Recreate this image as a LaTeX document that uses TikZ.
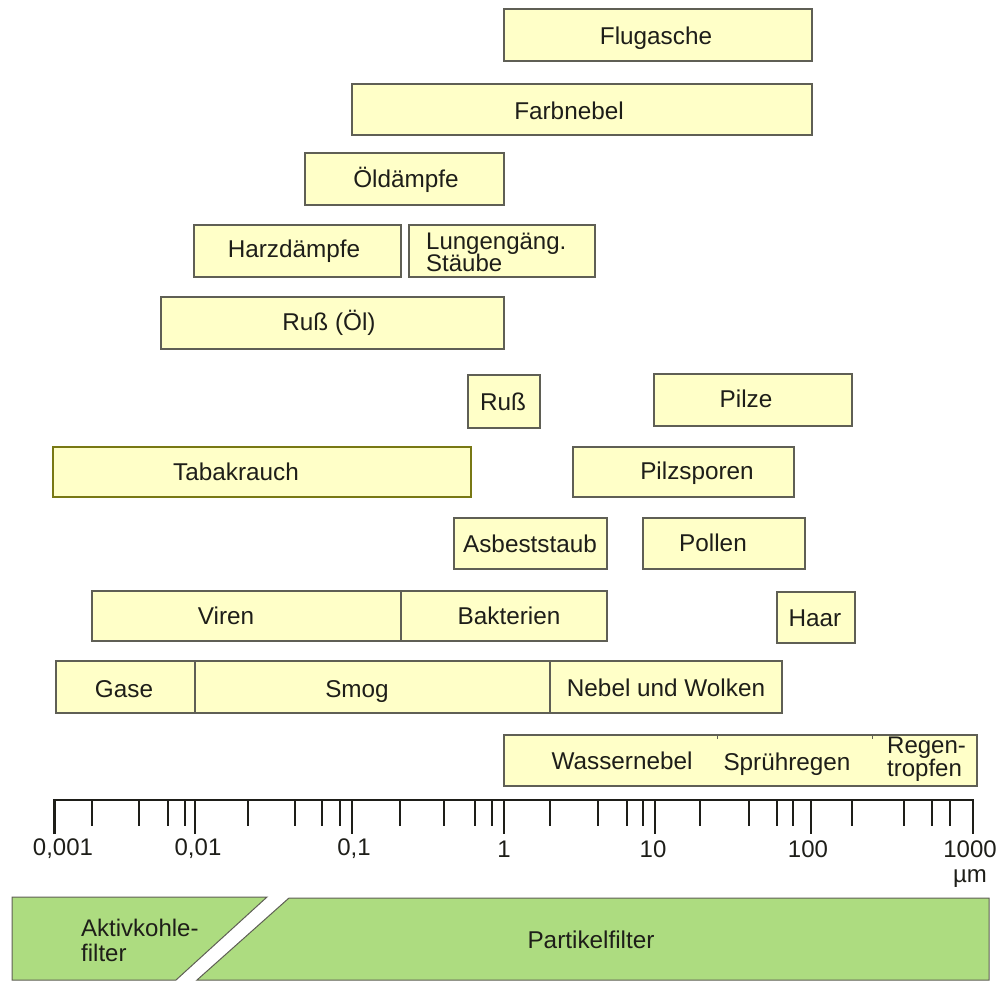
\documentclass[tikz,border=0pt]{standalone}
\usepackage{fontspec}
\setmainfont{Liberation Sans}
\definecolor{boxfill}{RGB}{255,255,200}
\definecolor{boxline}{RGB}{95,95,85}
\definecolor{oliveline}{RGB}{120,120,20}
\definecolor{filtgreen}{RGB}{173,220,128}
\definecolor{inkcol}{RGB}{30,30,25}
\begin{document}
\begin{tikzpicture}[x=1pt,y=-1pt,
  box/.style={draw=boxline, fill=boxfill, line width=1.3pt},
  divline/.style={draw=boxline, line width=1.1pt},
  lbl/.style={font=\fontsize{24.3}{24}\selectfont, inner sep=0pt, text=inkcol},
  lbltwo/.style={lbl, align=left, font=\fontsize{24}{22.5}\selectfont},
  axlbl/.style={font=\fontsize{24}{24}\selectfont, inner sep=0pt, text=inkcol},
  axisline/.style={draw=inkcol, line width=2.6pt},
  majtick/.style={draw=inkcol, line width=2.4pt},
  mintick/.style={draw=inkcol, line width=2.2pt},
  filt/.style={draw=boxline, fill=filtgreen, line width=1pt}]
\useasboundingbox (0,0) rectangle (1001,981);

% ---------- boxes ----------
\draw[box] (504,9) rectangle (812,61);
\node[lbl] (flug) at (656,38.5) {Flugasche};

\draw[box] (352,84) rectangle (812,135);
\node[lbl] (farb) at (569,111) {Farbnebel};

\draw[box] (305,153) rectangle (504,205);
\node[lbl] (oel) at (406,179.5) {Öldämpfe};

\draw[box] (194,225) rectangle (401,277);
\node[lbl] (harz) at (294,251.5) {Harzdämpfe};

\draw[box] (409,225) rectangle (595,277);
\node[lbltwo, anchor=west] (lung) at (426,252.5) {Lungengäng.\\Stäube};

\draw[box] (161,297) rectangle (504,349);
\node[lbl] (russoel) at (329,322.5) {Ruß (Öl)};

\draw[box] (468,375) rectangle (540,428);
\node[lbl] (russ) at (503,402) {Ruß};

\draw[box] (654,374) rectangle (852,426);
\node[lbl] (pilze) at (746,399) {Pilze};

\draw[box, draw=oliveline] (53,447) rectangle (471,497);
\node[lbl] (tabak) at (236,472) {Tabakrauch};

\draw[box] (573,447) rectangle (794,497);
\node[lbl] (sporen) at (697,473.5) {Pilzsporen};

\draw[box] (454,518) rectangle (607,569);
\node[lbl] (asbest) at (530,544) {Asbeststaub};

\draw[box] (643,518) rectangle (805,569);
\node[lbl] (pollen) at (713,543) {Pollen};

\draw[box] (92,591) rectangle (607,641);
\draw[divline] (401,591) -- (401,641);
\node[lbl] (viren) at (226,616) {Viren};
\node[lbl] (bakt) at (509,616) {Bakterien};

\draw[box] (777,592) rectangle (855,643);
\node[lbl] (haar) at (815,618) {Haar};

\draw[box] (56,661) rectangle (782,713);
\draw[divline] (195,661) -- (195,713);
\draw[divline] (550,661) -- (550,713);
\node[lbl] (gase) at (124,689) {Gase};
\node[lbl] (smog) at (357,691.5) {Smog};
\node[lbl] (nebel) at (666,688) {Nebel und Wolken};

\draw[box] (504,735) rectangle (977,786);
\draw[draw=boxline, line width=0.6pt] (717,735) -- (717,739);
\draw[draw=boxline, line width=0.6pt] (872,735) -- (872,739);
\node[lbl] (wasser) at (622,761) {Wassernebel};
\node[lbl] (spruh) at (787,764.5) {Sprühregen};
\node[lbltwo, anchor=west] (regen) at (887,759) {Regen-\\tropfen};

% ---------- axis ----------
\draw[axisline] (54.5,834) -- (54.5,800) -- (973,800) -- (973,834);
\foreach \xx in {195,352,504,655,811}
  \draw[majtick] (\xx,800) -- (\xx,834);
\foreach \xx in {92,139,168,185, 248,295,322,340, 400,444,475,492,
                 550,598,627,643, 700,749,777,793, 852,904,932,950}
  \draw[mintick] (\xx,800) -- (\xx,826);

\node[axlbl] (t1) at (63,849) {0,001};
\node[axlbl] (t2) at (198,849) {0,01};
\node[axlbl] (t3) at (354,849) {0,1};
\node[axlbl] (t4) at (504,849) {1};
\node[axlbl] (t5) at (653,849) {10};
\node[axlbl] (t6) at (808,849) {100};
\node[axlbl] (t7) at (970,849) {1000};
\node[axlbl] (unit) at (970,879) {µm};

% ---------- filters ----------
\draw[filt] (12,897) -- (267,897) -- (176,980) -- (12,980) -- cycle;
\draw[filt] (289,898) -- (989,898) -- (989,980) -- (197,980) -- cycle;
\node[lbltwo, anchor=west, font=\fontsize{24}{25}\selectfont] (aktiv) at (81,940) {Aktivkohle-\\filter};
\node[lbl] (partikel) at (591,940) {Partikelfilter};
\end{tikzpicture}
\end{document}
